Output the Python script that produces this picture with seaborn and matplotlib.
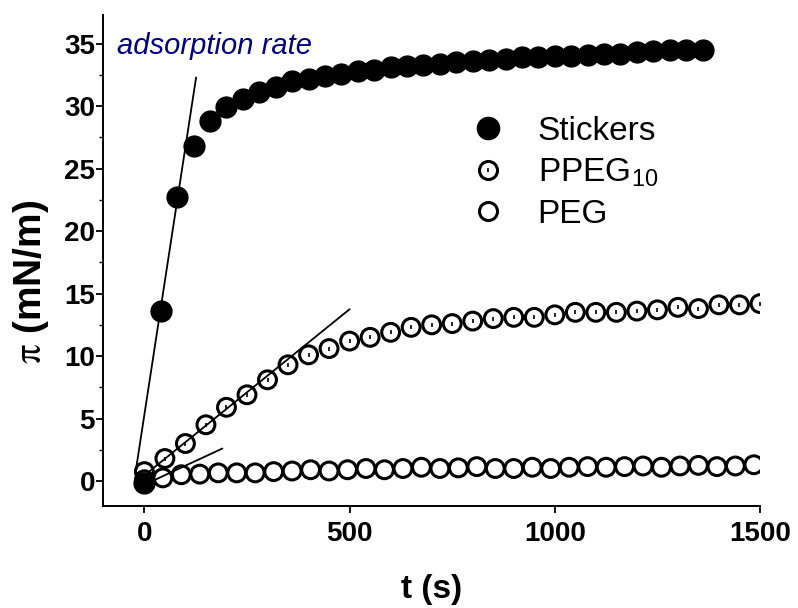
import numpy as np
import pandas as pd
import matplotlib.pyplot as plt
import seaborn as sns
from matplotlib.lines import Line2D
from matplotlib.legend_handler import HandlerTuple
from matplotlib.ticker import MultipleLocator

# surface pressure vs time
t_stickers = [0, 40, 80, 120, 160, 200, 240, 280, 320, 360, 400, 440, 480, 520,
              560, 600, 640, 680, 720, 760, 800, 840, 880, 920, 960, 1000, 1040,
              1080, 1120, 1160, 1200, 1240, 1280, 1320, 1360]
pi_stickers = [-0.2, 13.6, 22.7, 26.8, 28.8, 29.9, 30.6, 31.1, 31.5, 32.0, 32.2,
               32.4, 32.6, 32.8, 32.9, 33.1, 33.2, 33.3, 33.4, 33.5, 33.6, 33.7,
               33.8, 33.9, 33.9, 34.0, 34.0, 34.1, 34.2, 34.2, 34.3, 34.4, 34.5,
               34.5, 34.5]

t_ppeg = [0, 50, 100, 150, 200, 250, 300, 350, 400, 450, 500, 550, 600, 650, 700,
          750, 800, 850, 900, 950, 1000, 1050, 1100, 1150, 1200, 1250, 1300, 1350,
          1400, 1450, 1500]
pi_ppeg = [0.75, 1.8, 3.0, 4.5, 5.9, 6.9, 8.1, 9.3, 10.1, 10.6, 11.2, 11.5, 11.9,
           12.3, 12.5, 12.6, 12.8, 13.0, 13.1, 13.1, 13.3, 13.5, 13.5, 13.5, 13.6,
           13.7, 13.9, 13.8, 14.1, 14.1, 14.2]

t_peg = [0, 45, 90, 135, 180, 225, 270, 315, 360, 405, 450, 495, 540, 585, 630,
         675, 720, 765, 810, 855, 900, 945, 990, 1035, 1080, 1125, 1170, 1215,
         1260, 1305, 1350, 1395, 1440, 1485]
pi_peg = [0.1, 0.25, 0.5, 0.55, 0.65, 0.65, 0.65, 0.75, 0.8, 0.9, 0.8, 0.9, 1.0,
          0.9, 1.0, 1.1, 1.0, 1.05, 1.15, 1.0, 1.0, 1.1, 1.0, 1.1, 1.15, 1.1,
          1.15, 1.2, 1.1, 1.2, 1.25, 1.15, 1.2, 1.3]

# initial slope lines (adsorption rate)
fit_stickers_t = [-22, 126]
fit_stickers_pi = [0.6, 32.3]
fit_ppeg_t = [0, 500]
fit_ppeg_pi = [0.45, 13.75]
fit_peg_t = [0, 190]
fit_peg_pi = [-0.3, 2.6]

labels = ['Stickers', 'PPEG$_{10}$', 'PEG']

sns.set_theme(style='ticks')
plt.rcParams['font.family'] = ['Liberation Sans', 'DejaVu Sans']
plt.rcParams['mathtext.fontset'] = 'custom'
plt.rcParams['mathtext.rm'] = 'Liberation Sans'
plt.rcParams['mathtext.it'] = 'Liberation Sans:italic'
plt.rcParams['mathtext.bf'] = 'Liberation Sans:bold'

fig = plt.figure(figsize=(7.98, 6.08), dpi=100, facecolor='white')
ax = fig.add_axes([0.1295, 0.1678, 0.8229, 0.8075])
ax.set_facecolor('white')

# tangent lines
for tx, ty in [(fit_stickers_t, fit_stickers_pi), (fit_ppeg_t, fit_ppeg_pi), (fit_peg_t, fit_peg_pi)]:
    sns.lineplot(x=tx, y=ty, color='black', linewidth=1.3, ax=ax, zorder=2)

# PEG: open circles
sns.scatterplot(x=t_peg, y=pi_peg, marker='o', s=165, facecolor='none',
                edgecolor='black', linewidth=2.2, ax=ax, zorder=3)
# PPEG10: open circles with a centre dot
sns.scatterplot(x=t_ppeg, y=pi_ppeg, marker='o', s=165, facecolor='none',
                edgecolor='black', linewidth=2.2, ax=ax, zorder=3)
sns.scatterplot(x=t_ppeg, y=pi_ppeg, marker='|', s=9, color='black',
                linewidth=1.2, ax=ax, zorder=3)
# Stickers: filled circles
sns.scatterplot(x=t_stickers, y=pi_stickers, marker='o', s=225, color='black',
                edgecolor='black', linewidth=1, ax=ax, zorder=4)

ax.set_xlim(-100, 1500)
ax.set_ylim(-2, 37.3)
ax.set_xticks([0, 500, 1000, 1500])
ax.set_yticks([0, 5, 10, 15, 20, 25, 30, 35])
ax.yaxis.set_minor_locator(MultipleLocator(2.5))

for side in ['top', 'right']:
    ax.spines[side].set_visible(False)
for side in ['left', 'bottom']:
    ax.spines[side].set_linewidth(1.4)
    ax.spines[side].set_color('black')

ax.tick_params(axis='both', which='major', direction='out', length=5, width=1.3,
               labelsize=20, colors='black')
ax.tick_params(axis='y', which='major', pad=1)
ax.tick_params(axis='x', which='major', pad=6)
ax.tick_params(axis='y', which='minor', direction='out', length=3, width=1.0, color='black')
for lab in ax.get_xticklabels() + ax.get_yticklabels():
    lab.set_fontweight('bold')

ax.set_xlabel('t (s)', fontsize=24, fontweight='bold', color='black')
ax.set_ylabel(r'$\mathrm{\pi}$ (mN/m)', fontsize=28, fontweight='bold', color='black',
              math_fontfamily='stix')
ax.xaxis.set_label_coords(0.5, -0.171)
ax.xaxis.label.set_verticalalignment('center')
ax.yaxis.set_label_coords(-0.11, 0.456)
ax.yaxis.label.set_verticalalignment('center')

ax.text(-66, 34.2, 'adsorption rate', fontsize=21, style='italic', color='#000080',
        ha='left', va='baseline')

h_stickers = Line2D([], [], marker='o', ls='none', color='black', ms=16)
h_ppeg = (Line2D([], [], marker='o', ls='none', mfc='none', mec='black', ms=13, mew=2.2),
          Line2D([], [], marker='|', ls='none', color='black', ms=3, mew=1.2))
h_peg = Line2D([], [], marker='o', ls='none', mfc='none', mec='black', ms=13, mew=2.2)
ax.legend([h_stickers, h_ppeg, h_peg], labels,
          handler_map={tuple: HandlerTuple(ndivide=1)},
          frameon=False, loc='upper left', bbox_to_anchor=(0.56, 0.795),
          fontsize=24, labelcolor='black', handlelength=1.0, handletextpad=1.0,
          labelspacing=0.3, borderpad=0, borderaxespad=0)

fig.savefig('out.png', dpi=100, facecolor='white')
